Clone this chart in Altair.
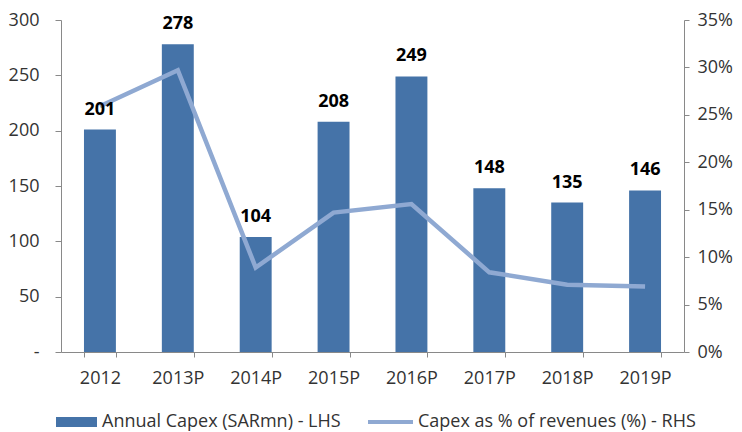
import altair as alt
import pandas as pd

years = ["2012", "2013P", "2014P", "2015P", "2016P", "2017P", "2018P", "2019P"]
capex = [201, 278, 104, 208, 249, 148, 135, 146]
capex_pct = [0.259, 0.297, 0.089, 0.147, 0.156, 0.084, 0.071, 0.069]
bar_name = "Annual Capex (SARmn) - LHS"
line_name = "Capex as % of revenues (%) - RHS"
left_ticks = [0, 50, 100, 150, 200, 250, 300]
right_ticks = [0, 0.05, 0.10, 0.15, 0.20, 0.25, 0.30, 0.35]

df = pd.DataFrame({"year": years, "capex": capex, "pct": capex_pct,
                   "bar_s": bar_name, "line_s": line_name})

FONT = "Open Sans"
FS = 18
BAR = "#4573A8"
LINE = "#8FA9D2"
AXIS = "#898989"
TXT = "#333333"

xenc = alt.X("year:N", sort=years,
             scale=alt.Scale(paddingInner=0.59, paddingOuter=0.295),
             axis=alt.Axis(title=None, labelAngle=0, tickBand="extent",
                           domainColor=AXIS, tickColor=AXIS, tickSize=5,
                           labelPadding=12, labelFontSize=FS, labelColor=TXT,
                           labelFont=FONT, grid=False))

base = alt.Chart(df)

bars = base.mark_bar(color=BAR).encode(
    x=xenc,
    y=alt.Y("capex:Q", scale=alt.Scale(domain=[0, 300]),
            axis=alt.Axis(title=None, values=left_ticks, grid=False,
                          labelExpr="datum.value == 0 ? '-\u00a0\u00a0\u00a0\u00a0\u00a0' : datum.label",
                          domainColor=AXIS, tickColor=AXIS, tickSize=6,
                          labelPadding=16, labelFontSize=FS, labelColor=TXT,
                          labelFont=FONT)),
    color=alt.Color("bar_s:N", scale=alt.Scale(domain=[bar_name], range=[BAR]),
                    legend=alt.Legend(title=None, orient="none", legendX=22, legendY=393,
                                      symbolType="M-7.2,-1H1V1H-7.2Z", symbolSize=100,
                                      symbolStrokeWidth=0, labelOffset=1, labelLimit=400)),
)

line = base.mark_line(strokeWidth=4.5).encode(
    x=xenc,
    y=alt.Y("pct:Q", scale=alt.Scale(domain=[0, 0.35]),
            axis=alt.Axis(title=None, orient="right", values=right_ticks, format=".0%",
                          grid=False, domainColor=AXIS, tickColor=AXIS, tickSize=5,
                          labelPadding=8, labelFontSize=FS, labelColor=TXT,
                          labelFont=FONT)),
    stroke=alt.Stroke("line_s:N", scale=alt.Scale(domain=[line_name], range=[LINE]),
                      legend=alt.Legend(title=None, orient="none", legendX=338, legendY=393,
                                        symbolType="M-8,-0.4H1V0.4H-8Z", symbolSize=100,
                                        symbolFillColor=LINE, symbolStrokeWidth=0,
                                        labelOffset=1, labelLimit=400)),
)

labels = base.mark_text(dy=-15, baseline="alphabetic", fontWeight="bold",
                        fontSize=FS, font=FONT, color="black").encode(
    x=xenc,
    y=alt.Y("capex:Q", scale=alt.Scale(domain=[0, 300]), axis=None),
    text="capex:Q",
)

chart = alt.layer(bars, line, labels).resolve_scale(
    y="independent", color="independent", stroke="independent"
).properties(
    width=623, height=332,
    autosize=alt.AutoSizeParams(type="none"),
    padding={"left": 53, "top": 12, "right": 50, "bottom": 80},
).configure_view(stroke=None).configure_legend(
    labelFont=FONT, labelFontSize=FS, labelColor=TXT
)

chart.save("out.html", embed_options={"renderer": "svg", "actions": False})
